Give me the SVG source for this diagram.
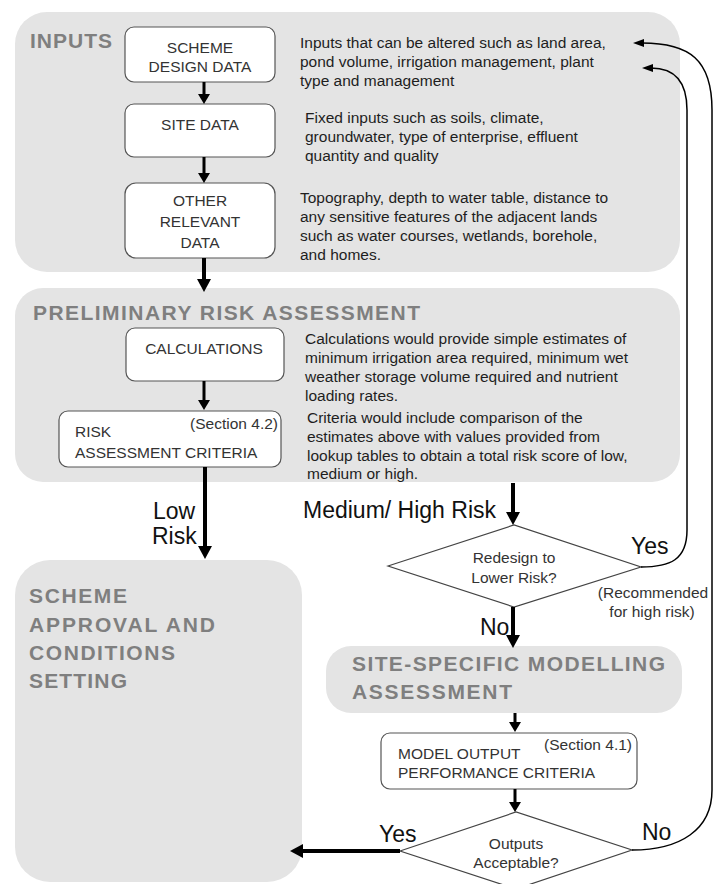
<svg xmlns="http://www.w3.org/2000/svg" width="715" height="884" viewBox="0 0 715 884">
<defs>
<style>
.panel{fill:#e4e4e4;}
.title{font-family:"Liberation Sans",Arial,sans-serif;font-weight:bold;font-size:21px;fill:#7f7f7f;}
.box{fill:#ffffff;stroke:#555555;stroke-width:1.2;}
.dia{fill:#ffffff;stroke:#444444;stroke-width:1.2;}
.bt{font-family:"Liberation Sans",Arial,sans-serif;font-size:15.5px;fill:#333333;}
.desc{font-family:"Liberation Sans",Arial,sans-serif;font-size:15.5px;fill:#1e1e1e;}
.lab{font-family:"Liberation Sans",Arial,sans-serif;font-size:23px;fill:#111111;}
.mid{text-anchor:middle;}
.end{text-anchor:end;}
.c3{fill:none;stroke:#000;stroke-width:3;}
.c4{fill:none;stroke:#000;stroke-width:4;}
.ct{fill:none;stroke:#000;stroke-width:1.5;}
</style>
<marker id="ah" markerUnits="userSpaceOnUse" markerWidth="10" markerHeight="12" refX="2" refY="6" orient="auto"><path d="M0,0 L10,6 L0,12 z" fill="#000"/></marker>
<marker id="ahb" markerUnits="userSpaceOnUse" markerWidth="13" markerHeight="14" refX="2" refY="7" orient="auto"><path d="M0,0 L13,7 L0,14 z" fill="#000"/></marker>
<marker id="aht" markerUnits="userSpaceOnUse" markerWidth="11" markerHeight="8" refX="2" refY="4" orient="auto"><path d="M0,0 L11,4 L0,8 z" fill="#000"/></marker>
</defs>

<g id="inputs-panel">
<rect class="panel" x="15" y="12" width="665" height="260" rx="32"/>
<text class="title" x="30" y="48" textLength="82" lengthAdjust="spacing">INPUTS</text>
<text class="desc" x="300" y="48">Inputs that can be altered such as land area,</text>
<text class="desc" x="300" y="67">pond volume, irrigation management, plant</text>
<text class="desc" x="300" y="86">type and management</text>
<text class="desc" x="305" y="123">Fixed inputs such as soils, climate,</text>
<text class="desc" x="305" y="142">groundwater, type of enterprise, effluent</text>
<text class="desc" x="305" y="161">quantity and quality</text>
<text class="desc" x="300" y="203">Topography, depth to water table, distance to</text>
<text class="desc" x="300" y="222">any sensitive features of the adjacent lands</text>
<text class="desc" x="300" y="241">such as water courses, wetlands, borehole,</text>
<text class="desc" x="300" y="260">and homes.</text>
</g>

<g id="prelim-panel">
<rect class="panel" x="15" y="288" width="665" height="194" rx="28"/>
<text class="title" x="33" y="320" textLength="387" lengthAdjust="spacing">PRELIMINARY RISK ASSESSMENT</text>
<text class="desc" x="305" y="344">Calculations would provide simple estimates of</text>
<text class="desc" x="305" y="363">minimum irrigation area required, minimum wet</text>
<text class="desc" x="305" y="382">weather storage volume required and nutrient</text>
<text class="desc" x="305" y="401">loading rates.</text>
<text class="desc" x="307" y="423">Criteria would include comparison of the</text>
<text class="desc" x="307" y="442">estimates above with values provided from</text>
<text class="desc" x="307" y="461">lookup tables to obtain a total risk score of low,</text>
<text class="desc" x="307" y="479">medium or high.</text>
</g>

<g id="approval-panel">
<rect class="panel" x="15" y="560" width="287" height="322" rx="35"/>
<text class="title" x="29" y="603" textLength="98" lengthAdjust="spacing">SCHEME</text>
<text class="title" x="29" y="632" textLength="186" lengthAdjust="spacing">APPROVAL AND</text>
<text class="title" x="29" y="660" textLength="146" lengthAdjust="spacing">CONDITIONS</text>
<text class="title" x="29" y="688" textLength="98" lengthAdjust="spacing">SETTING</text>
</g>

<g id="modelling-panel">
<rect class="panel" x="326" y="646" width="356" height="67" rx="25"/>
<text class="title" x="352" y="671" textLength="313" lengthAdjust="spacing">SITE-SPECIFIC MODELLING</text>
<text class="title" x="352" y="699" textLength="160" lengthAdjust="spacing">ASSESSMENT</text>
</g>

<g id="scheme-design-data">
<rect class="box" x="125" y="27" width="150" height="55" rx="9"/>
<text class="bt mid" x="200" y="53">SCHEME</text>
<text class="bt mid" x="200" y="72">DESIGN DATA</text>
</g>

<g id="site-data">
<rect class="box" x="125" y="104" width="150" height="53" rx="9"/>
<text class="bt mid" x="200" y="130">SITE DATA</text>
</g>

<g id="other-relevant-data">
<rect class="box" x="125" y="183" width="150" height="75" rx="11"/>
<text class="bt mid" x="200" y="206">OTHER</text>
<text class="bt mid" x="200" y="227">RELEVANT</text>
<text class="bt mid" x="200" y="248">DATA</text>
</g>

<g id="calculations">
<rect class="box" x="126" y="328" width="158" height="53" rx="9"/>
<text class="bt mid" x="204" y="354">CALCULATIONS</text>
</g>

<g id="risk-criteria">
<rect class="box" x="59" y="411" width="222" height="56" rx="9"/>
<text class="bt end" x="278" y="429">(Section 4.2)</text>
<text class="bt" x="75" y="437">RISK</text>
<text class="bt" x="75" y="458">ASSESSMENT CRITERIA</text>
</g>

<g id="redesign-decision">
<polygon class="dia" points="388,566 514,525 641,567 514,607"/>
<text class="bt mid" x="514" y="563">Redesign to</text>
<text class="bt mid" x="514" y="583">Lower Risk?</text>
</g>

<g id="model-criteria">
<rect class="box" x="381" y="733" width="256" height="56" rx="9"/>
<text class="bt end" x="632" y="750">(Section 4.1)</text>
<text class="bt" x="398" y="759">MODEL OUTPUT</text>
<text class="bt" x="398" y="778">PERFORMANCE CRITERIA</text>
</g>

<g id="outputs-decision">
<polygon class="dia" points="400,851 516,812 632,850 516,889"/>
<text class="bt mid" x="516" y="849">Outputs</text>
<text class="bt mid" x="516" y="868">Acceptable?</text>
</g>

<g id="connectors">
<path class="c3" d="M204,82 V96" marker-end="url(#ah)"/>
<path class="c3" d="M204,157 V175" marker-end="url(#ah)"/>
<path class="c4" d="M204,258 V281" marker-end="url(#ahb)"/>
<path class="c3" d="M204,381 V402" marker-end="url(#ah)"/>
<path class="c4" d="M205,467 V548" marker-end="url(#ahb)"/>
<path class="c4" d="M513,483 V514" marker-end="url(#ahb)"/>
<path class="c4" d="M513,607 V637" marker-end="url(#ahb)"/>
<path class="c3" d="M515,713 V724" marker-end="url(#ah)"/>
<path class="c3" d="M515,789 V804" marker-end="url(#ah)"/>
<path class="c4" d="M400,851 H301" marker-end="url(#ahb)"/>
<path class="ct" d="M641,567 C670,567 687,560 687,530 V110 C687,82 675,68 651,68" marker-end="url(#aht)"/>
<path class="ct" d="M632,850 C680,850 712,830 712,790 V110 C712,60 690,43 642,43" marker-end="url(#aht)"/>
<text class="lab" x="153" y="519">Low</text>
<text class="lab" x="152" y="544">Risk</text>
<text class="lab" x="303" y="518">Medium/ High Risk</text>
<text class="lab" x="631" y="554">Yes</text>
<text class="bt mid" x="653" y="598">(Recommended</text>
<text class="bt mid" x="652" y="617">for high risk)</text>
<text class="lab" x="480" y="635">No</text>
<text class="lab" x="379" y="842">Yes</text>
<text class="lab" x="642" y="840">No</text>
</g>
</svg>
